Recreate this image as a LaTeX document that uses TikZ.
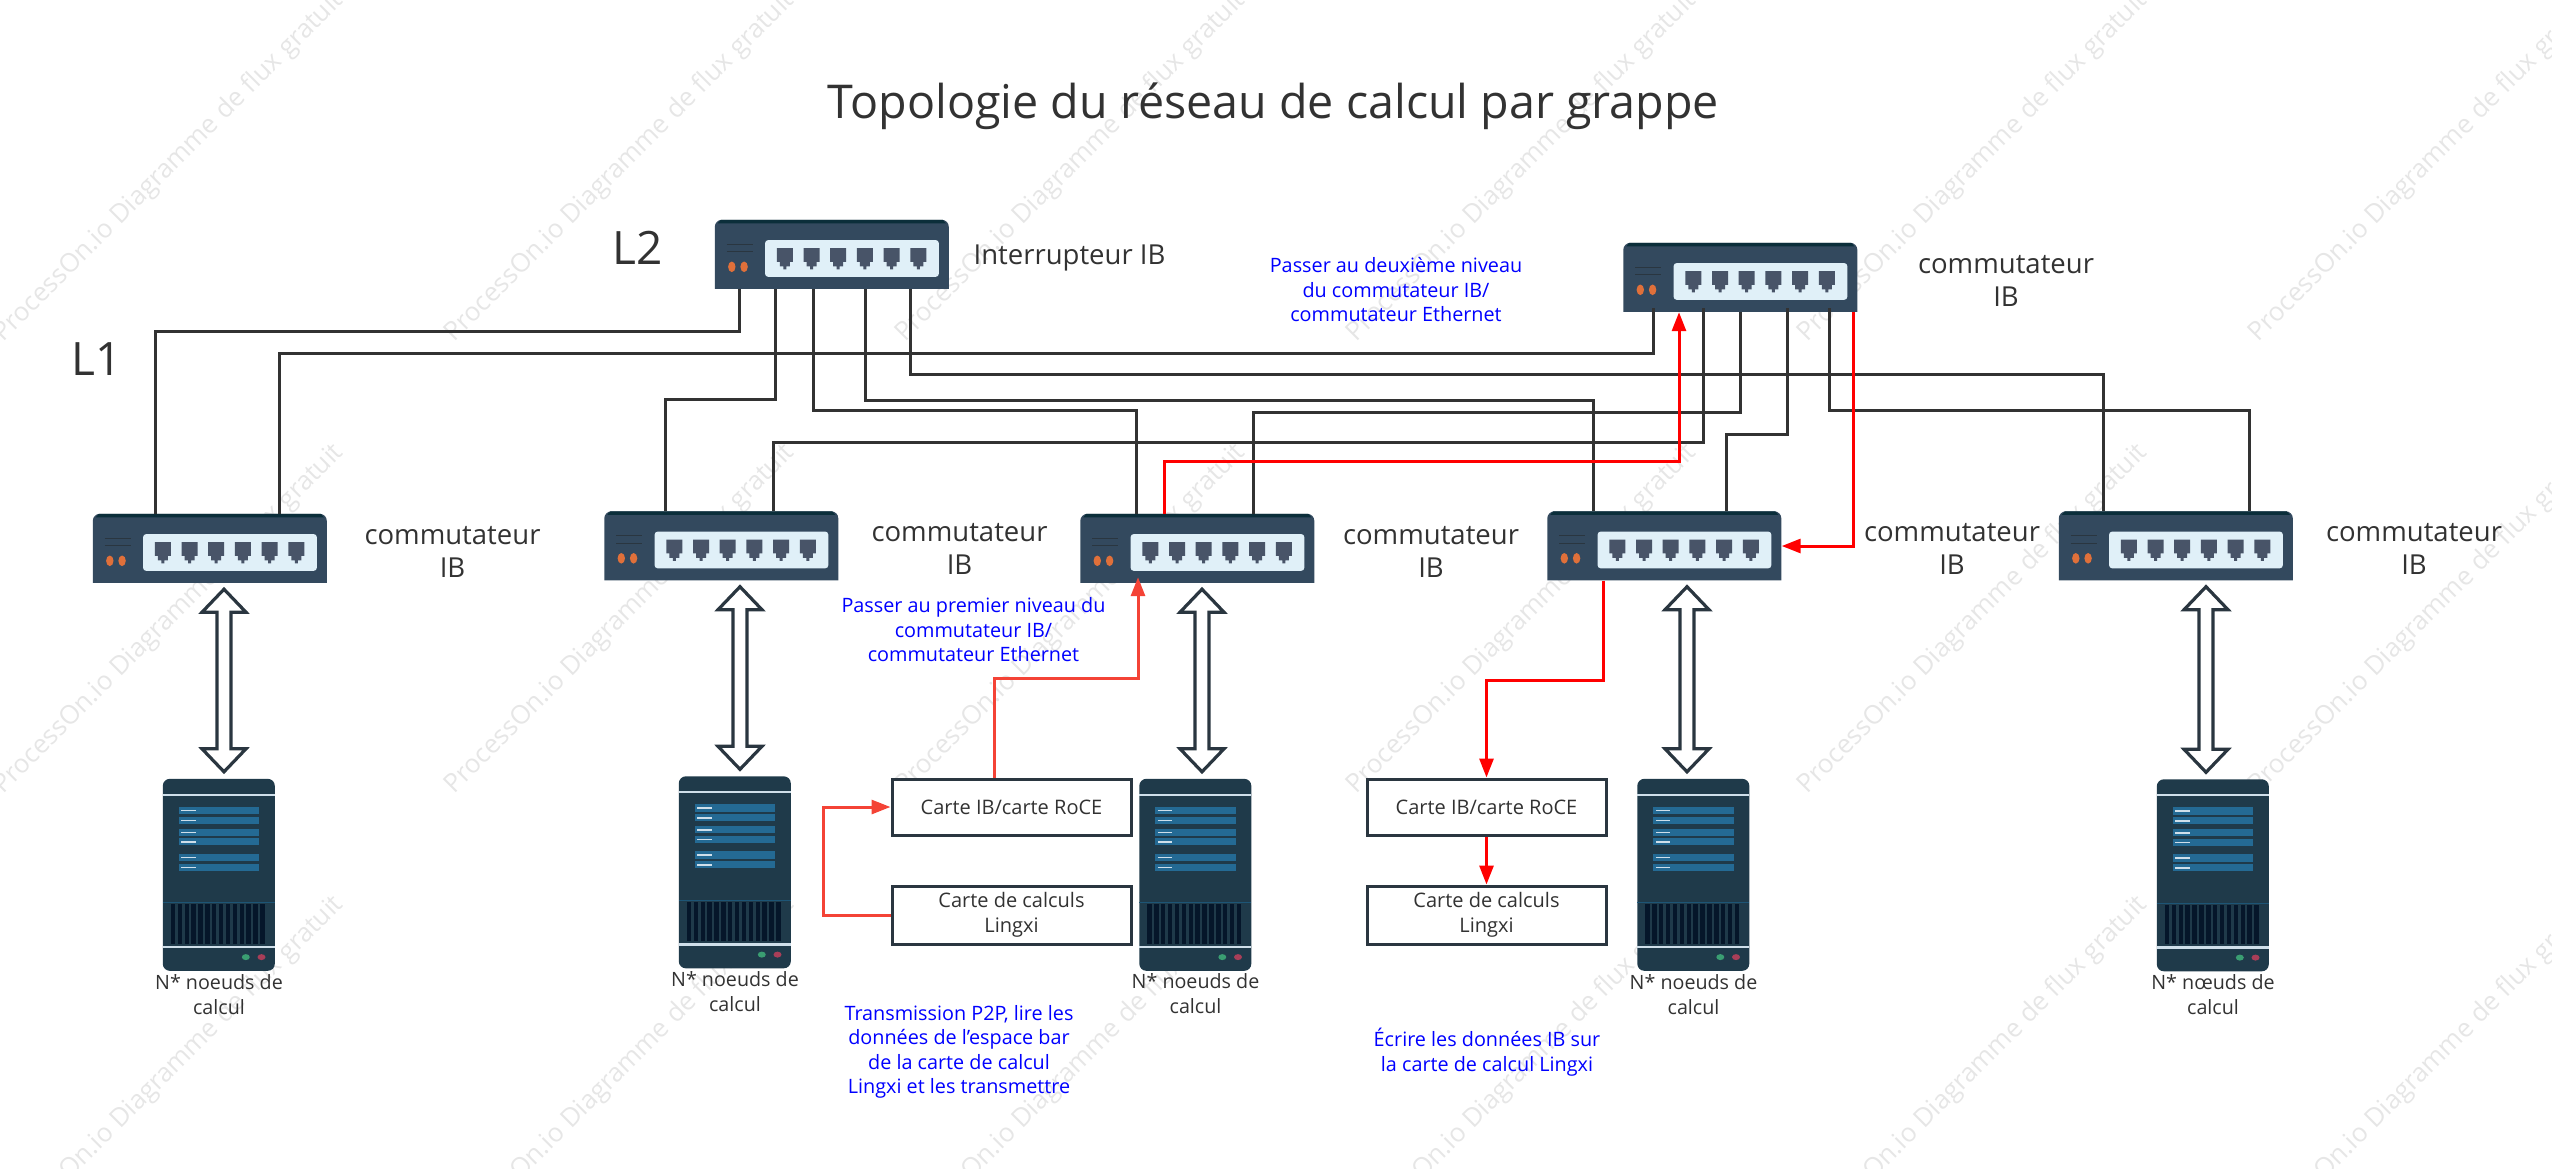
\documentclass[tikz,border=0pt]{standalone}
\usepackage{fontspec}
\setmainfont{Open Sans}
\usetikzlibrary{arrows.meta, calc}
\definecolor{swbody}{HTML}{33495E}
\definecolor{swtop}{HTML}{0B2E3A}
\definecolor{swpanel}{HTML}{E0F0F8}
\definecolor{swport}{HTML}{485468}
\definecolor{swled}{HTML}{E0703A}
\definecolor{srvbody}{HTML}{1F3A4A}
\definecolor{srvbar}{HTML}{246A94}
\definecolor{srvline}{HTML}{CFDFEA}
\definecolor{srvvent}{HTML}{05162A}
\definecolor{srvgreen}{HTML}{3A9E72}
\definecolor{srvred}{HTML}{A83E58}
\definecolor{inkdark}{HTML}{323232}
\definecolor{boxdark}{HTML}{2A3640}
\definecolor{redorange}{HTML}{F44336}
\definecolor{wmgray}{HTML}{E6E6E6}
\tikzset{
  elbow/.style={to path={let \p1=(\tikztostart), \p2=(\tikztotarget), \p3=(0,#1) in
    (\p1) -- (\x1,\y3) -- (\x2,\y3) -- (\p2)}},
  wire/.style={draw=inkdark, line width=3pt},
  red line/.style={draw=red, line width=3pt, -{Triangle[length=19pt,width=14pt]}},
  orange line/.style={draw=redorange, line width=3pt, -{Triangle[length=19pt,width=14pt]}},
  dbl arrow/.style={draw=boxdark, fill=white, line width=3.2pt, to path={let \p1=(\tikztostart), \p2=(\tikztotarget) in
    (\x1,\y1) -- (\x1+22pt,\y1-23pt) -- (\x1+7pt,\y1-23pt) -- (\x1+7pt,\y2+23pt) -- (\x1+22pt,\y2+23pt)
    -- (\x1,\y2) -- (\x1-22pt,\y2+23pt) -- (\x1-7pt,\y2+23pt) -- (\x1-7pt,\y1-23pt) -- (\x1-22pt,\y1-23pt) -- cycle}},
  sw base/.style={minimum width=234pt, minimum height=69pt, inner sep=0pt},
  srv base/.style={minimum width=112pt, minimum height=192pt, inner sep=0pt},
  card box/.style={draw=boxdark, fill=white, line width=3pt, minimum width=239pt, inner sep=0pt, align=center, text=inkdark,
    font=\fontsize{20}{25}\selectfont},
  sw label/.style={align=center, text=inkdark, font=\fontsize{27.5}{33}\selectfont},
  srv label/.style={align=center, text=inkdark, inner sep=0pt, font=\fontsize{19.7}{25}\selectfont},
  blue label/.style={align=center, text=blue, inner sep=0pt, font=\fontsize{19.8}{24.5}\selectfont},
  watermark/.style={anchor=base west, rotate=45, text=wmgray, inner sep=0pt, font=\fontsize{26}{26}\selectfont},
  switch icon/.pic={
    \fill[swbody] (0,69) [rounded corners=7pt] -- (0,0) -- (234,0) [sharp corners] -- (234,69) -- cycle;
    \fill[swtop] (6,0) -- (228,0) -- (231,3.5) -- (3,3.5) -- cycle;
    \fill[swpanel, rounded corners=3pt] (50.3,20.3) rectangle (224,57);
    \draw[boxdark, line width=1pt] (12,24.3) -- (37.7,24.3) (12,32) -- (37.7,32);
    \fill[swled] (17,47) ellipse (3.7 and 5.3) (29.3,47) ellipse (3.7 and 5.3);
    \foreach \i in {0,...,5}
      \fill[swport, shift={({70+26.7*\i},0)}] (-8,28.3) -- (8,28.3) -- (8,42) -- (5,42) -- (5,46.5) -- (1.5,46.5) -- (1.5,49.5)
        -- (-1.5,49.5) -- (-1.5,46.5) -- (-5,46.5) -- (-5,42) -- (-8,42) -- cycle;
  },
  server icon/.pic={
    \fill[srvbody, rounded corners=7pt] (0,0) rectangle (112,192);
    \draw[srvline, line width=2pt] (0,16) -- (112,16);
    \draw[srvline, line width=2.5pt] (0,168) -- (112,168);
    \draw[srvbar!80!black, line width=1pt] (0,123.7) -- (112,123.7);
    \foreach \b in {28,37.7,49.7,59.2,75,84.7} {
      \fill[srvbar] (16,\b) rectangle (96.3,\b+7.4);
      \fill[srvline] (18.3,\b+3) rectangle (33,\b+4.6);
    }
    \foreach \i in {0,...,13}
      \fill[srvvent] ({8+6.88*\i},125.5) rectangle ({12.4+6.88*\i},165);
    \fill[srvgreen] (83,178.3) ellipse (4 and 3);
    \fill[srvred] (98.7,178.3) ellipse (4 and 3);
  },
}
\begin{document}
\begin{tikzpicture}[x=1pt, y=-1pt]
  \useasboundingbox (0,0) rectangle (2552,1168);
  %Watermark behind everything
  \begin{scope}
    \clip (0,0) rectangle (2552,1168);
    \foreach \k in {0,...,5}
      \foreach \m in {0,1,2}
        \node[watermark] (wm\k\m) at ({\k*451+3},{343+\m*452}) {ProcessOn.io Diagramme de flux gratuit};
  \end{scope}
  %Switches
  \foreach \n/\x/\y in {sw1/210/548.5, sw2/721.5/546, sw3/1197.5/548.5, sw4/1664.5/546, sw5/2176/546, swa/832/254.5, swb/1740.5/277.5} {
    \node[sw base] (\n) at (\x,\y) {};
    \pic at (\n.north west) {switch icon};
  }
  %Compute nodes
  \foreach \n/\x/\y in {srv1/219/875, srv2/735/872.5, srv3/1195.5/875, srv4/1693.5/875, srv5/2213/875.5} {
    \node[srv base] (\n) at (\x,\y) {};
    \pic at (\n.north west) {server icon};
  }
  %Black cabling between the two levels
  \draw[wire] ([xshift=-55pt]sw1.north) to[elbow=331] ([xshift=-93pt]swa.south);
  \draw[wire] ([xshift=69pt]sw1.north) to[elbow=353] ([xshift=-87.5pt,yshift=4pt]swb.south);
  \draw[wire] ([xshift=-56.5pt]sw2.north) to[elbow=399] ([xshift=-57pt]swa.south);
  \draw[wire] ([xshift=-19pt]swa.south) to[elbow=410] ([xshift=-61.5pt]sw3.north);
  \draw[wire] ([xshift=33pt]swa.south) to[elbow=400] ([xshift=-71.5pt]sw4.north);
  \draw[wire] ([xshift=78pt]swa.south) to[elbow=374] ([xshift=-73pt]sw5.north);
  \draw[wire] ([xshift=51.5pt]sw2.north) to[elbow=442] ([xshift=-37.5pt,yshift=4pt]swb.south);
  \draw[wire] ([xshift=55.5pt]sw3.north) to[elbow=412] (swb.south);
  \draw[wire] ([xshift=61.5pt]sw4.north) to[elbow=434] ([xshift=46.5pt,yshift=4pt]swb.south);
  \draw[wire] ([xshift=88.5pt,yshift=4pt]swb.south) to[elbow=410] ([xshift=73pt]sw5.north);
  %Links between switches and nodes
  \draw[dbl arrow] ([xshift=14pt,yshift=-6pt]sw1.south) to ([yshift=7pt]srv1.north);
  \draw[dbl arrow] ([xshift=18.5pt,yshift=-6pt]sw2.south) to ([yshift=7pt]srv2.north);
  \draw[dbl arrow] ([xshift=4.5pt,yshift=-6pt]sw3.south) to ([yshift=7pt]srv3.north);
  \draw[dbl arrow] ([xshift=22.5pt,yshift=-6pt]sw4.south) to ([yshift=7pt]srv4.north);
  \draw[dbl arrow] ([xshift=30pt,yshift=-6pt]sw5.south) to ([yshift=7pt]srv5.north);
  %Cards
  \node[card box, minimum height=56pt] (ib1) at (1011.5,807) {Carte IB/carte RoCE};
  \node[card box, minimum height=58pt] (lx1) at (1011.5,915) {Carte de calculs\\Lingxi};
  \node[card box, minimum height=56pt] (ib2) at (1486.5,807) {Carte IB/carte RoCE};
  \node[card box, minimum height=58pt] (lx2) at (1486.5,915) {Carte de calculs\\Lingxi};
  %Data path
  \draw[orange line] (lx1.west) -- ++(-67,0) |- (ib1.west);
  \draw[orange line] ([xshift=-17.5pt]ib1.north) to[elbow=678] ([xshift=-59.5pt,yshift=6pt]sw3.south);
  \draw[red line] ([xshift=-33.5pt]sw3.north) to[elbow=461] ([xshift=-61.5pt]swb.south);
  \draw[red line] ([xshift=112.5pt]swb.south) |- (sw4.east);
  \draw[red line] ([xshift=-61.5pt]sw4.south) to[elbow=680] (ib2.north);
  \draw[red line] (ib2) -- (lx2);
  %Labels
  \node[inner sep=0pt, text=inkdark, font=\fontsize{46.6}{47}\selectfont] (title) at (1273.5,106) {Topologie du réseau de calcul par grappe};
  \node[inner sep=0pt, text=inkdark, font=\fontsize{46}{46}\selectfont] (l2) at (637.5,248) {L2};
  \node[inner sep=0pt, text=inkdark, font=\fontsize{46}{46}\selectfont] (l1) at (97,359) {L1};
  \node[sw label] (labswa) at (1069.5,258) {Interrupteur IB};
  \node[sw label] (labswb) at (2006,280.5) {commutateur\\IB};
  \foreach \n/\x/\y in {lab1/452.5/551.5, lab2/959.5/548.5, lab3/1431/551.5, lab4/1952/548.5, lab5/2414/548.5}
    \node[sw label] (\n) at (\x,\y) {commutateur\\IB};
  \foreach \n/\x/\y in {cap1/219/994.5, cap2/735/991.5, cap3/1195.5/994, cap4/1693.5/994.5}
    \node[srv label] (\n) at (\x,\y) {N* noeuds de\\calcul};
  \node[srv label] (cap5) at (2213,994.5) {N* nœuds de\\calcul};
  \node[blue label] (txtsecond) at (1396,290) {Passer au deuxième niveau\\du commutateur IB/\\commutateur Ethernet};
  \node[blue label] (txtfirst) at (973.5,630) {Passer au premier niveau du\\commutateur IB/\\commutateur Ethernet};
  \node[blue label] (txtp2p) at (959,1052) {Transmission P2P, lire les\\données de l'espace bar\\de la carte de calcul\\Lingxi et les transmettre};
  \node[blue label] (txtwrite) at (1487,1052) {Écrire les données IB sur\\la carte de calcul Lingxi};
\end{tikzpicture}
\end{document}
